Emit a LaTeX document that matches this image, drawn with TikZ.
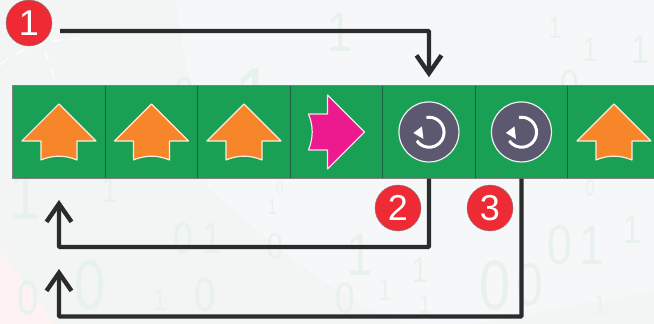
\documentclass[tikz,border=0pt]{standalone}
\usepackage{fontspec}
\setmainfont{Liberation Sans}
\usetikzlibrary{matrix,arrows.meta}

\definecolor{cellgreen}{HTML}{1AA055}
\definecolor{celledge}{HTML}{1F5F44}
\definecolor{upfill}{HTML}{F7862A}
\definecolor{rightfill}{HTML}{EC1A8E}
\definecolor{loopfill}{HTML}{5B5870}
\definecolor{badgered}{HTML}{EE2A35}
\definecolor{linkgray}{HTML}{2A2B2C}
\definecolor{bitgreen}{HTML}{E8F2EC}
\definecolor{backleft}{HTML}{F3F5F5}
\definecolor{backright}{HTML}{F6F7F9}

\tikzset{
    badge/.style={circle, draw=gray, fill=badgered, text=white, minimum size=46pt, inner sep=0pt, font=\fontsize{36}{36}\selectfont},
    link/.style={draw=linkgray, line width=4.4pt, rounded corners=1pt, -{Straight Barb[length=18pt, width=25pt, line width=4.4pt]}},
    bit/.style={text=bitgreen, inner sep=0pt, xscale=.8, transform shape},
    pics/uparrow/.style={code={
        \draw[fill=#1, draw=white!85!#1, line width=1.2pt, line join=round] (0,-28) -- (37,9) -- (18,9) -- (18,28)
            .. controls (6,23) and (-6,23) .. (-18,28) -- (-18,9) -- (-37,9) -- cycle;
    }},
    pics/reload/.style={code={
        \draw[fill=loopfill, draw=white!90!loopfill, line width=1.2pt] (0,0) circle (30);
        \draw[white, line width=3pt] (-2.5,-14.5) arc (-100:145:15);
        \fill[white] (-15.6,1) -- (-7,-5.5) -- (-5.5,7) -- cycle;
    }},
}

\begin{document}
\begin{tikzpicture}[x=1pt, y=-1pt]
    \path[use as bounding box, clip] (0,0) rectangle (654,324);
    % backdrop
    \fill[fill=backleft] (0,0) rectangle (654,324);
    \fill[fill=backright] (175,0) -- (654,0) -- (654,292) .. controls (560,305) and (480,330) .. (416,326)
        .. controls (330,300) and (270,240) .. (208,188) -- cycle;
    \fill[fill=red!5!white] (0,250) -- (55,324) -- (0,324) -- cycle;
    \foreach \px/\py/\size/\val [count=\i] in {
        255/100/90/1, 185/92/42/0, 570/85/42/0, 590/50/34/1, 340/32/56/1, 555/28/30/1,
        90/285/70/0, 28/298/48/0, 205/295/48/0, 345/298/44/0, 495/285/70/0, 530/285/60/0,
        25/195/70/1, 183/238/44/0, 212/238/44/1, 275/246/36/0, 110/190/36/1, 360/255/60/1,
        420/270/36/1, 560/245/56/0, 592/245/56/1, 272/207/22/1, 280/188/16/0, 590/188/22/0,
        385/290/30/1, 425/305/26/1, 600/305/26/1, 160/300/30/1, 632/230/40/1, 640/50/40/1} {
        \node[bit, font=\fontsize{\size}{\size}\selectfont] (bit\i) at (\px,\py) {\val};
    }
    \draw[white, line width=1pt, dash pattern=on 11pt off 8pt] (0,65) .. controls (20,48) and (50,37) .. (88,39);
    \draw[white, line width=1pt, dash pattern=on 11pt off 8pt] (45,50) -- (55,80);

    \matrix[matrix of nodes, anchor=north west, inner sep=0pt, nodes={draw=celledge, fill=cellgreen, line width=1pt, minimum size=92.5pt, anchor=center, inner sep=0pt}, column sep=-1pt] (m) at (12,85) {
        ~ & ~ & ~ & ~ & ~ & ~ & ~ \\
    };
    \draw[gray, line width=1pt] (m-1-7.north east) -| (m-1-1.south west) -- (m-1-7.south east);

    \foreach \c in {1,2,3,7} {
        \pic at (m-1-\c.center) {uparrow=upfill};
    }
    \pic[rotate=-90] at (m-1-4.center) {uparrow=rightfill};
    \foreach \c in {5,6} {
        \pic at (m-1-\c.center) {reload};
    }

    \node[badge] (b1) at (29,23) {1};
    \node[badge] (b2) at (398,208) {2};
    \node[badge] (b3) at (490,208) {3};

    \coordinate (start) at (60,31);
    \coordinate (hit) at (m-1-5.north);
    \coordinate (back2) at (59,200);
    \coordinate (back3) at (59,269);
    \draw[link] (start) -| ([yshift=8pt]hit);
    \draw[link] (m-1-5.south) |- (59,247) -- (back2);
    \draw[link] (m-1-6.south) |- (59,316.5) -- (back3);
\end{tikzpicture}
\end{document}
